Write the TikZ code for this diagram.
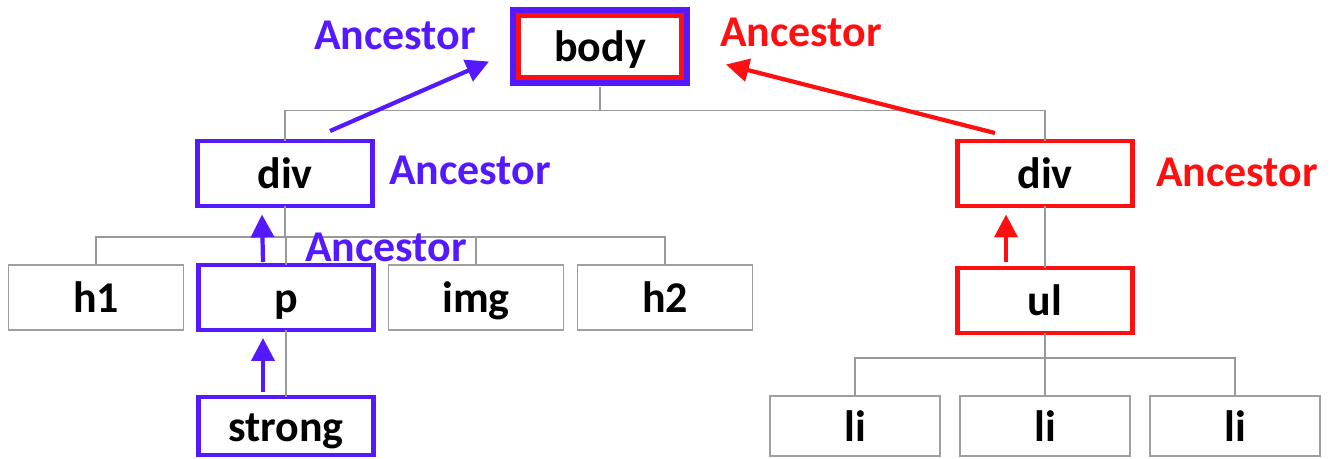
\documentclass[tikz,border=0pt]{standalone}
\usepackage{fontspec}
\setmainfont{Carlito}
\usetikzlibrary{arrows.meta}
\definecolor{ancblue}{RGB}{85,25,255}
\definecolor{ancred}{RGB}{255,15,15}

\begin{document}
\begin{tikzpicture}[x=0.02cm, y=0.02cm,
        tag/.style={rectangle, draw=gray!75, line width=1pt, minimum width=3.5cm, minimum height=1.3cm,
                inner sep=0pt, outer sep=0pt, text height=18.5pt, text depth=1pt,
                font=\fontsize{25}{30}\selectfont\bfseries},
        bluetag/.style={tag, draw=ancblue, line width=2.6pt},
        redtag/.style={tag, draw=ancred, line width=2.6pt},
        litag/.style={tag, minimum width=3.4cm, minimum height=1.2cm},
        tree/.style={draw=gray!80, line width=0.8pt},
        climb/.style={line width=2.4pt, -{Triangle[length=13pt, width=13pt]}},
        anc/.style={font=\fontsize{25}{30}\selectfont\bfseries, inner sep=0pt}
    ]
    \useasboundingbox (0,0) rectangle (1334,-458);

    % Root element, framed twice (red inside, blue outside)
    \node[redtag, line width=3pt, minimum width=3.28cm, minimum height=1.26cm] (body) at (600,-46.5) {body};
    \draw[ancblue, line width=3.4pt] ([shift={(-5,5)}]body.north west) rectangle ([shift={(5,-5)}]body.south east);

    % Second and third level
    \node[bluetag] (divL) at (285,-173.5) {div};
    \node[redtag] (divR) at (1045,-173.5) {div};
    \node[tag] (h1) at (96,-297.5) {h1};
    \node[bluetag] (p) at (286,-297.5) {p};
    \node[tag] (img) at (476,-297.5) {img};
    \node[tag] (h2) at (665,-297.5) {h2};
    \node[bluetag, minimum height=1.16cm] (strong) at (286,-426) {strong};
    \node[redtag] (ul) at (1045,-300.5) {ul};
    \foreach \x [count=\n from 1] in {855, 1045, 1235} {
            \node[litag] (li\n) at (\x,-426) {li};
        }

    % Tree lines
    \foreach \kid in {divL, divR} {
            \draw[tree] ([yshift=-5]body.south) -- ++(0,-24) -| (\kid.north);
        }
    \foreach \kid in {h1, p, img, h2} {
            \draw[tree] (divL.south) -- ++(0,-31) -| (\kid.north);
        }
    \draw[tree] (p.south) -- (strong.north);
    \draw[tree] (divR.south) -- (ul.north);
    \foreach \n in {1,...,3} {
            \draw[tree] (ul.south) -- ++(0,-25) -| (li\n.north);
        }

    % Ancestor chains
    \draw[climb, ancblue] ([shift={(-23,5)}]strong.north) -- ([shift={(-23,-8)}]p.south);
    \draw[climb, ancblue] ([shift={(-23,3)}]p.north) -- ([shift={(-23,-8.5)}]divL.south);
    \draw[climb, ancblue] ([shift={(45,10)}]divL.north) -- ([shift={(-29,-15)}]body.west);
    \draw[climb, ancred] ([shift={(-39,6)}]ul.north) -- ([shift={(-39,-8.5)}]divR.south);
    \draw[climb, ancred] ([shift={(-50,8)}]divR.north) -- ([shift={(44,-18)}]body.east);

    % Labels
    \node[anc, text=ancblue] (ancBodyL) at (395,-35) {Ancestor};
    \node[anc, text=ancred] (ancBodyR) at (801,-32) {Ancestor};
    \node[anc, text=ancblue] (ancDivL) at (470,-170) {Ancestor};
    \node[anc, text=ancred] (ancDivR) at (1237,-172) {Ancestor};
    \node[anc, text=ancblue] (ancP) at (386,-247) {Ancestor};
\end{tikzpicture}
\end{document}
